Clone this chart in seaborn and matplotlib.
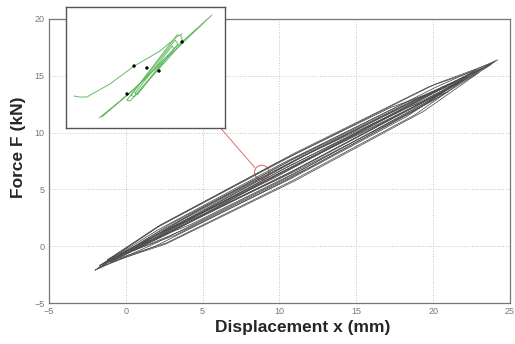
import matplotlib
matplotlib.use("Agg")
import matplotlib.pyplot as plt
import seaborn as sns
import pandas as pd
from matplotlib.patches import Ellipse

# ---------------- data ----------------
# main hysteresis loops: vertices [tipA, upper1, upper2, upper3, tipB, lower3, lower2, lower1, tipA]
loops_x = [
    [-2.0, 1.93, 11.1, 20.27, 24.2, 20.27, 11.1, 1.93, -2.0],
    [-1.5, 2.25, 11.0, 19.75, 23.5, 19.75, 11.0, 2.25, -1.5],
    [-1.0, 2.6, 11.0, 19.4, 23.0, 19.4, 11.0, 2.6, -1.0],
    [-0.5, 2.88, 10.75, 18.63, 22.0, 18.63, 10.75, 2.88, -0.5],
    [0.0, 3.23, 10.75, 18.28, 21.5, 18.28, 10.75, 3.23, 0.0],
    [1.0, 4.23, 11.75, 19.28, 22.5, 19.28, 11.75, 4.23, 1.0],
    [-1.2, 2.06, 9.65, 17.25, 20.5, 17.25, 9.65, 2.06, -1.2],
    [0.5, 4.0, 12.15, 20.31, 23.8, 20.31, 12.15, 4.0, 0.5],
    [2.0, 4.85, 11.5, 18.15, 21.0, 18.15, 11.5, 4.85, 2.0],
    [-1.8, 1.89, 10.5, 19.11, 22.8, 19.11, 10.5, 1.89, -1.8],
    [-1.7, 2.16, 11.15, 20.15, 24.0, 20.15, 11.15, 2.16, -1.7],
    [-0.8, 2.67, 10.75, 18.84, 22.3, 18.84, 10.75, 2.67, -0.8],
    [0.3, 3.74, 11.75, 19.77, 23.2, 19.77, 11.75, 3.74, 0.3],
    [-1.4, 2.08, 10.2, 18.32, 21.8, 18.32, 10.2, 2.08, -1.4],
]
loops_y = [
    [-2.1, 1.10, 7.85, 14.05, 16.4, 13.21, 6.45, 0.26, -2.1],
    [-1.6, 1.87, 8.20, 14.05, 15.8, 13.33, 7.00, 1.15, -1.6],
    [-1.4, 1.03, 7.15, 12.72, 15.3, 11.88, 5.75, 0.19, -1.4],
    [-0.9, 1.93, 7.55, 12.78, 14.6, 12.18, 6.55, 1.33, -0.9],
    [-0.6, 1.70, 7.15, 12.13, 14.3, 11.41, 5.95, 0.98, -0.6],
    [0.2, 2.58, 8.05, 13.08, 15.2, 12.42, 6.95, 1.92, 0.2],
    [-1.2, 1.71, 7.20, 12.21, 13.8, 11.49, 6.00, 0.99, -1.2],
    [-0.4, 2.35, 8.35, 13.83, 16.0, 13.05, 7.05, 1.57, -0.4],
    [1.0, 3.29, 7.90, 12.11, 13.6, 11.51, 6.90, 2.69, 1.0],
    [-1.9, 0.64, 6.95, 12.82, 15.5, 12.16, 5.85, -0.02, -1.9],
    [-1.7, 1.74, 8.20, 14.27, 16.2, 13.67, 7.20, 1.14, -1.7],
    [-1.2, 1.03, 6.90, 12.30, 14.9, 11.58, 5.70, 0.31, -1.2],
    [-0.3, 2.36, 8.10, 13.49, 15.6, 12.95, 7.20, 1.82, -0.3],
    [-1.5, 1.43, 7.30, 12.70, 14.6, 11.98, 6.10, 0.71, -1.5],
]

# inset (zoomed detail), in inset units 0..100
inset_x = [
    [5.0, 8.8, 13.2, 16.4, 27.7, 42.8, 59.1, 70.4, 73.0],
    [20.8, 40.3, 65.4, 91.8, 68.6, 43.4, 22.6],
    [38.4, 69.8, 72.3, 73.6, 40.3, 38.4],
    [40.9, 68.6, 70.4, 42.8, 40.9],
    [43.4, 66.7, 67.9, 44.7, 43.4],
]
inset_y = [
    [26.4, 25.6, 25.6, 28.1, 36.4, 51.2, 63.6, 76.0, 77.7],
    [8.3, 28.9, 60.3, 93.4, 66.1, 33.1, 9.1],
    [23.1, 76.9, 76.0, 71.1, 22.3, 23.1],
    [27.3, 72.7, 69.4, 25.6, 27.3],
    [28.9, 67.8, 65.3, 27.3, 28.9],
]
dots_x = [42.8, 50.9, 58.5, 38.4, 73.0]
dots_y = [51.2, 49.6, 47.1, 28.1, 71.1]

# zoom marker (main-axis coordinates)
circle_xy = (8.85, 6.5)
link_x = [6.2, 8.39]
link_y = [10.35, 6.93]

xticks = [-5, 0, 5, 10, 15, 20, 25]
yticks = [-5, 0, 5, 10, 15, 20]
xlabel = "Displacement x (mm)"
ylabel = "Force F (kN)"

# ---------------- figure ----------------
sns.set_style("white")
plt.rcParams["font.family"] = ["Liberation Sans", "DejaVu Sans"]

fig = plt.figure(figsize=(5.15, 3.44), dpi=100)
ax = fig.add_axes([0.0951, 0.119, 0.895, 0.826])

rows = []
for i, (xs, ys) in enumerate(zip(loops_x, loops_y)):
    for k, (xv, yv) in enumerate(zip(xs, ys)):
        rows.append({"x": xv, "y": yv, "loop": i, "order": k})
df = pd.DataFrame(rows)
sns.lineplot(data=df, x="x", y="y", units="loop", estimator=None, sort=False,
             color="0.3", linewidth=0.55, ax=ax, legend=False)

ax.set_xlim(-5, 25)
ax.set_ylim(-5, 20)
ax.set_xticks(xticks)
ax.set_yticks(yticks)
ax.tick_params(axis="both", direction="in", labelsize=6.5, labelcolor="#777777",
               color="#777777", length=3, width=0.6, pad=3)
ax.grid(True, linestyle=":", color="#c4c4c4", linewidth=0.7)
for s in ax.spines.values():
    s.set_color("#777777")
    s.set_linewidth(0.9)
ax.set_xlabel(xlabel, fontsize=12.5, fontweight="bold")
ax.set_ylabel(ylabel, fontsize=12.5, fontweight="bold")
ax.xaxis.set_label_coords(0.55, -0.06)
ax.yaxis.set_label_coords(-0.05, 0.549)

ax.add_patch(Ellipse(circle_xy, width=0.95, height=1.25, fill=False,
                     edgecolor="#e07070", linewidth=0.8))
ax.plot(link_x, link_y, color="#e07070", linewidth=0.7)

# inset
axi = fig.add_axes([66 / 515, (344 - 128) / 344, 159 / 515, 121 / 344])
irows = []
for i, (xs, ys) in enumerate(zip(inset_x, inset_y)):
    for k, (xv, yv) in enumerate(zip(xs, ys)):
        irows.append({"x": xv, "y": yv, "seg": i})
idf = pd.DataFrame(irows)
sns.lineplot(data=idf, x="x", y="y", units="seg", estimator=None, sort=False,
             color="#66bb66", linewidth=0.7, ax=axi, legend=False)
sns.scatterplot(x=dots_x, y=dots_y, color="black", s=6, ax=axi, zorder=5,
                edgecolor="none")
axi.set_xlim(0, 100)
axi.set_ylim(0, 100)
axi.set_xticks([])
axi.set_yticks([])
axi.set_xlabel("")
axi.set_ylabel("")
axi.set_facecolor("white")
for s in axi.spines.values():
    s.set_color("#555555")
    s.set_linewidth(1.0)

fig.savefig("out.png", dpi=100)
